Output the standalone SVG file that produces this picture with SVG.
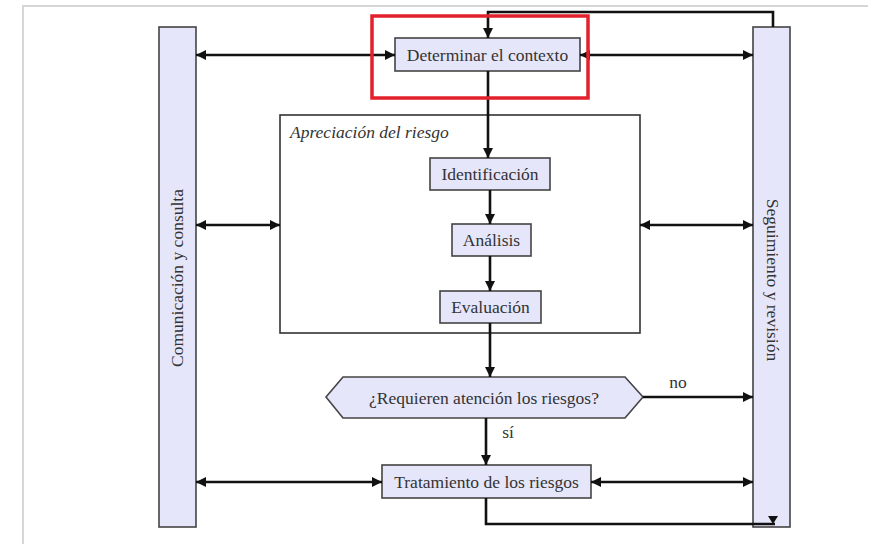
<svg xmlns="http://www.w3.org/2000/svg" width="879" height="544" viewBox="0 0 879 544">
<defs>
<style>
.box{fill:#e6e6fa;stroke:#444;stroke-width:1.6}
.t{font-family:"Liberation Serif","Times New Roman",serif;font-size:17.5px;fill:#333;text-anchor:middle}
.c{fill:none;stroke:#111;stroke-width:2.6}
.frame{fill:none;stroke:#d6d6d6;stroke-width:2}
</style>
<marker id="ah" viewBox="0 0 10 10" refX="10" refY="5" markerWidth="4" markerHeight="4" orient="auto-start-reverse" markerUnits="strokeWidth">
<path d="M0,0 L10,5 L0,10 Z" fill="#111"/>
</marker>
</defs>
<rect width="879" height="544" fill="#fff"/>
<path class="frame" d="M23,544 V6 H868"/>

<g id="comunicacion">
<rect class="box" x="159" y="27" width="37" height="500"/>
<text class="t" transform="translate(183,278) rotate(-90)">Comunicación y consulta</text>
</g>
<g id="seguimiento">
<rect class="box" x="753" y="27" width="37" height="500"/>
<text class="t" transform="translate(767,280) rotate(90)">Seguimiento y revisión</text>
</g>
<g id="apreciacion">
<rect x="280" y="115" width="360" height="218" fill="#fff" stroke="#333" stroke-width="1.6"/>
<text class="t" x="290" y="138" style="text-anchor:start;font-style:italic">Apreciación del riesgo</text>
</g>
<g id="determinar">
<rect class="box" x="395" y="38" width="185" height="33"/>
<text class="t" x="487.5" y="61">Determinar el contexto</text>
</g>
<g id="identificacion">
<rect class="box" x="430" y="158" width="120" height="32"/>
<text class="t" x="490" y="180">Identificación</text>
</g>
<g id="analisis">
<rect class="box" x="452" y="224" width="79" height="32"/>
<text class="t" x="491.5" y="246">Análisis</text>
</g>
<g id="evaluacion">
<rect class="box" x="440" y="291" width="101" height="32"/>
<text class="t" x="490.5" y="313">Evaluación</text>
</g>
<g id="decision">
<polygon class="box" points="326,397 343,377 625,377 643,397 625,418 343,418"/>
<text class="t" x="484" y="404">¿Requieren atención los riesgos?</text>
</g>
<g id="tratamiento">
<rect class="box" x="382" y="465" width="209" height="33"/>
<text class="t" x="486.5" y="488">Tratamiento de los riesgos</text>
</g>

<g id="connectors">
<path class="c" d="M773,27 V12 H488 V38" marker-end="url(#ah)"/>
<line class="c" x1="196" y1="55" x2="395" y2="55" marker-start="url(#ah)" marker-end="url(#ah)"/>
<line class="c" x1="580" y1="55" x2="753" y2="55" marker-start="url(#ah)" marker-end="url(#ah)"/>
<line class="c" x1="488" y1="71" x2="488" y2="158" marker-end="url(#ah)"/>
<line class="c" x1="490" y1="190" x2="490" y2="224" marker-end="url(#ah)"/>
<line class="c" x1="490" y1="256" x2="490" y2="291" marker-end="url(#ah)"/>
<line class="c" x1="490" y1="323" x2="490" y2="377" marker-end="url(#ah)"/>
<line class="c" x1="196" y1="225" x2="280" y2="225" marker-start="url(#ah)" marker-end="url(#ah)"/>
<line class="c" x1="640" y1="225" x2="753" y2="225" marker-start="url(#ah)" marker-end="url(#ah)"/>
<line class="c" x1="643" y1="397" x2="753" y2="397" marker-end="url(#ah)"/>
<text class="t" x="678" y="388">no</text>
<line class="c" x1="486" y1="418" x2="486" y2="465" marker-end="url(#ah)"/>
<text class="t" x="508" y="438">sí</text>
<line class="c" x1="196" y1="482" x2="382" y2="482" marker-start="url(#ah)" marker-end="url(#ah)"/>
<line class="c" x1="591" y1="482" x2="753" y2="482" marker-start="url(#ah)" marker-end="url(#ah)"/>
<path class="c" d="M486,498 V524 H775"/>
<path d="M768,516 L778,516 L773,524 Z" fill="#111"/>
</g>

<rect x="372" y="16" width="216" height="82" fill="none" stroke="#e3202b" stroke-width="3.5"/>
</svg>
